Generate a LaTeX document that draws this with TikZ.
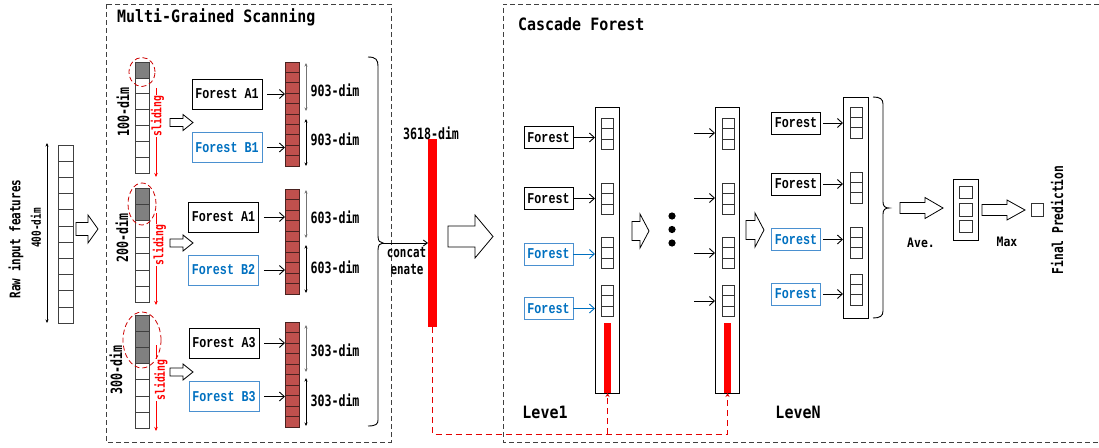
\documentclass[tikz,border=0pt]{standalone}
\usepackage{fontspec}
\usetikzlibrary{arrows.meta,calc}
\newfontfamily\heiA[FakeStretch=0.75]{DejaVu Sans Mono}
\newfontfamily\heiT[FakeStretch=0.88]{DejaVu Sans Mono}
\newfontfamily\songf[FakeStretch=0.78]{Liberation Mono}
\definecolor{fblue}{HTML}{0070C0}
\definecolor{fbluel}{HTML}{4A90D0}
\definecolor{brick}{HTML}{C0504D}
\definecolor{brickd}{HTML}{4A2220}
\newcommand{\blockarrow}[6]{%
 \draw[line width=0.8pt,fill=white,line join=miter] (#1,#3-#4) -- (#2-#6,#3-#4) -- (#2-#6,#3-#5) -- (#2,#3) -- (#2-#6,#3+#5) -- (#2-#6,#3+#4) -- (#1,#3+#4) -- cycle;}
\newcommand{\scol}[6]{%
 \foreach \i in {1,...,#5} {\pgfmathsetmacro\ya{#3+(\i-1)*#4}\pgfmathsetmacro\yb{#3+\i*#4}%
   \ifnum\i>#6 \draw[cellc,fill=white] (#1,\ya) rectangle (#2,\yb); \else \draw[cellc,fill=gray] (#1,\ya) rectangle (#2,\yb); \fi}}
\newcommand{\bcol}[5]{%
 \foreach \i in {1,...,#5} {\pgfmathsetmacro\ya{#3+(\i-1)*#4}\pgfmathsetmacro\yb{#3+\i*#4}%
   \draw[draw=brickd,fill=brick,line width=0.7pt] (#1,\ya) rectangle (#2,\yb);}}
\begin{document}
\begin{tikzpicture}[x=1pt,y=-1pt,
 cellc/.style={draw=black!75,line width=0.7pt},
 sqr/.style={draw=black!80,line width=0.7pt},
 dimarr/.style={{Stealth[length=3.5pt,width=3pt]}-{Stealth[length=3.5pt,width=3pt]},line width=0.8pt},
 farr/.style={-{Straight Barb[length=5pt,width=9pt]},line width=0.9pt},
 fbox/.style={draw,line width=0.8pt,font=\songf\bfseries\fontsize{15}{16}\selectfont,minimum width=70pt,minimum height=30pt,inner sep=0},
 fboxb/.style={fbox,draw=fbluel,text=fblue},
 cfbox/.style={fbox,minimum width=49pt,minimum height=22pt},
 cfboxb/.style={cfbox,draw=fbluel,text=fblue},
 lbl/.style={font=\heiA\bfseries\fontsize{15.5}{16}\selectfont,inner sep=0},
 lbls/.style={font=\heiA\bfseries\fontsize{13}{14}\selectfont,inner sep=0},
 ttl/.style={font=\heiT\bfseries\fontsize{17}{18}\selectfont,inner sep=0},
 ttls/.style={font=\heiT\bfseries\fontsize{13}{14}\selectfont,inner sep=0},
 sld/.style={font=\heiA\bfseries\fontsize{13}{14}\selectfont,text=red,rotate=90,fill=white,inner sep=0.5pt},
 sldarr/.style={draw=red,line width=0.9pt,-{Stealth[length=4pt,width=3.5pt]}},
 ell/.style={draw=red!80!black,dash pattern=on 5pt off 3pt,line width=0.8pt},
 frame/.style={draw=black!75,dash pattern=on 5pt off 3pt,line width=0.8pt},
 reddash/.style={draw=red!90!black,dash pattern=on 6pt off 4pt,line width=0.9pt},
 area/.style={inner sep=0,outer sep=0,anchor=north west}]
\useasboundingbox (0,0) rectangle (1099,447);

% ---------------- raw input
\scol{58}{73}{145}{16.2}{11}{0}
\node[area,minimum width=15pt,minimum height=178pt] (raw) at (58,145) {};
\draw[dimarr] (47,143) -- (47,323);
\node[lbl,font=\heiA\bfseries\fontsize{14.6}{15}\selectfont,rotate=90] at (16,239) {Raw input features};
\node[lbl,font=\heiA\bfseries\fontsize{12.5}{13}\selectfont,rotate=90] at (36,228) {400-dim};
\blockarrow{76}{98}{229}{6.5}{14}{10}

% ---------------- multi-grained frame
\draw[frame] (106,4) rectangle (391,442);
\node[ttl,anchor=west] at (117,17) {Multi-Grained Scanning};

% group 1
\scol{135}{149}{62}{15.9}{7}{1}
\draw[ell] (142,72) ellipse [x radius=13pt,y radius=14.5pt];
\node[lbl,rotate=90] at (123,112) {100-dim};
\draw[sldarr] (156,88) -- (156,177);
\node[sld] at (157.5,116) {sliding};
\blockarrow{170}{193}{122.5}{4}{8}{10}
\node[fbox] (a1) at (227,94) {Forest A1};
\node[fboxb] (b1) at (227,147.5) {Forest B1};
\bcol{285}{299}{62}{10.4}{10}
\node[area,minimum width=14pt,minimum height=104pt] (c1) at (285,62) {};
\draw[farr] ([xshift=5pt]a1.east) -- (a1.east -| c1.west);
\draw[farr] ([xshift=5pt]b1.east) -- (b1.east -| c1.west);
\draw[dimarr,draw=black!55] (306,63) -- (306,111);
\draw[dimarr] (306,119) -- (306,166);
\node[lbl] at (335,90) {903-dim};
\node[lbl] at (335,139) {903-dim};

% group 2
\scol{135}{149}{188}{16.4}{7}{2}
\draw[ell] (142,204) ellipse [x radius=14pt,y radius=21pt];
\node[lbl,rotate=90] at (122,238) {200-dim};
\draw[sldarr] (156,213) -- (156,305);
\node[sld] at (159.5,245) {sliding};
\blockarrow{170}{193}{243}{4}{8}{10}
\node[fbox] (a2) at (223.5,217) {Forest A1};
\node[fboxb] (b2) at (223.5,270) {Forest B2};
\bcol{285}{299}{189}{10.5}{10}
\node[area,minimum width=14pt,minimum height=105pt] (c2) at (285,189) {};
\draw[farr] ([xshift=5pt]a2.east) -- (a2.east -| c2.west);
\draw[farr] ([xshift=5pt]b2.east) -- (b2.east -| c2.west);
\draw[dimarr,draw=black!55] (306,190) -- (306,238);
\draw[dimarr] (306,245) -- (306,293);
\node[lbl] at (335,217) {603-dim};
\node[lbl] at (335,267) {603-dim};

% group 3
\scol{135}{149}{315}{16.2}{7}{3}
\draw[ell] (142,340) ellipse [x radius=19pt,y radius=28pt];
\node[lbl,rotate=90] at (116,370) {300-dim};
\draw[sldarr] (156,345) -- (156,431);
\node[sld] at (161,380) {sliding};
\blockarrow{170}{193}{372}{4}{8}{10}
\node[fbox] (a3) at (224,343) {Forest A3};
\node[fboxb] (b3) at (224,396.5) {Forest B3};
\bcol{285}{299}{322}{10.5}{10}
\node[area,minimum width=14pt,minimum height=105pt] (c3) at (285,322) {};
\draw[farr] ([xshift=5pt]a3.east) -- (a3.east -| c3.west);
\draw[farr] ([xshift=5pt]b3.east) -- (b3.east -| c3.west);
\draw[dimarr,draw=black!55] (306,325) -- (306,372);
\draw[dimarr] (306,378) -- (306,426);
\node[lbl] at (335,350) {303-dim};
\node[lbl] at (335,400) {303-dim};

% brace and concatenation
\draw[line width=0.9pt] (368,57) .. controls (376,57) and (378,60) .. (378,66) -- (378,236)
  .. controls (378,241) and (380,243) .. (383,243) .. controls (380,243) and (378,245) .. (378,250)
  -- (378,420) .. controls (378,424) and (376,426) .. (368,426);
\coordinate (brtip) at (382,243);
\node[area,fill=red,minimum width=9pt,minimum height=188pt] (cat) at (428,139) {};
\node[lbl] at (431,133.5) {3618-dim};
\draw[line width=0.9pt,-{Straight Barb[length=4pt,width=6pt]}] (brtip) -- (brtip -| cat.west);
\node[lbl,font=\heiA\bfseries\fontsize{14.5}{15}\selectfont] at (406.5,253) {concat};
\node[lbl,font=\heiA\bfseries\fontsize{14.5}{15}\selectfont] at (407,269.5) {enate};
\blockarrow{448}{493}{236.5}{10.5}{21.5}{18}

% ---------------- cascade forest frame
\draw[frame] (1099,4) -- (503,4) -- (503,442) -- (1099,442);
\node[ttl,anchor=west] at (518,24) {Cascade Forest};

% level 1
\node[area,draw,line width=0.8pt,minimum width=24pt,minimum height=286pt] (L1) at (595,107) {};
\foreach \g in {118,183,237,285} \foreach \k in {0,1,2}
  \draw[sqr] (601,{\g+\k*10.5}) rectangle (613,{\g+(\k+1)*10.5});
\node[area,fill=red,minimum width=7pt,minimum height=70pt] (r1) at (604,323) {};
\node[cfbox] (p1) at (548.5,137.5) {Forest};
\node[cfbox] (p2) at (548.5,198.5) {Forest};
\node[cfboxb] (p3) at (548.5,254) {Forest};
\node[cfboxb] (p4) at (548.5,308.5) {Forest};
\draw[farr] (p1.east) -- (p1.east -| L1.west);
\draw[farr] (p2.east) -- (p2.east -| L1.west);
\draw[farr,draw=fblue] (p3.east) -- (p3.east -| L1.west);
\draw[farr,draw=fblue] (p4.east) -- (p4.east -| L1.west);
\node[ttl] at (545,412) {Leve1};

\blockarrow{632}{649}{231}{9.5}{17}{9}
\fill (672,216) circle (3.6pt) (672,229.5) circle (3.6pt) (672,243) circle (3.6pt);

% level N
\node[area,draw,line width=0.8pt,minimum width=24pt,minimum height=286pt] (LN) at (715,107) {};
\foreach \g in {118,183,237,285} \foreach \k in {0,1,2}
  \draw[sqr] (722,{\g+\k*10.5}) rectangle (734,{\g+(\k+1)*10.5});
\node[area,fill=red,minimum width=7pt,minimum height=70pt] (rN) at (724,323) {};
\coordinate (n1) at (694,133);
\coordinate (n2) at (694,198);
\coordinate (n3) at (694,253);
\coordinate (n4) at (694,301);
\foreach \n in {n1,n2,n3,n4} \draw[farr] (\n) -- (\n -| LN.west);
\node[ttl] at (798,412) {LeveN};

\blockarrow{746}{764}{230}{9.5}{17}{9}

% output layer
\node[area,draw,line width=0.8pt,minimum width=25pt,minimum height=221pt] (OC) at (843,97) {};
\foreach \g in {107,172,227,274} \foreach \k in {0,1,2}
  \draw[sqr] (850,{\g+\k*10.4}) rectangle (862,{\g+(\k+1)*10.4});
\node[cfbox] (q1) at (796,123) {Forest};
\node[cfbox] (q2) at (796,184) {Forest};
\node[cfboxb] (q3) at (796,239.5) {Forest};
\node[cfboxb] (q4) at (796,294) {Forest};
\draw[farr] ([xshift=2pt]q1.east) -- (q1.east -| OC.west);
\draw[farr] ([xshift=2pt]q2.east) -- (q2.east -| OC.west);
\draw[farr] ([xshift=2pt]q3.east) -- (q3.east -| OC.west);
\draw[farr] ([xshift=2pt]q4.east) -- (q4.east -| OC.west);
\draw[line width=0.9pt] (873,97) .. controls (880,97) and (883,99) .. (883,104) -- (883,202)
  .. controls (883,206) and (885,208) .. (889,208) .. controls (885,208) and (883,210) .. (883,214)
  -- (883,311) .. controls (883,316) and (880,318) .. (873,318);

\blockarrow{900}{943}{208}{5.5}{10.5}{18}
\node[ttls] at (921,243) {Ave.};
\node[area,draw,line width=0.8pt,minimum width=25pt,minimum height=61pt] (AV) at (953,179) {};
\draw[sqr] (959,186) rectangle (972,198);
\draw[sqr] (959,203) rectangle (972,216);
\draw[sqr] (959,220) rectangle (972,232);
\blockarrow{982}{1025}{210}{5.5}{10}{18}
\node[ttls] at (1007,242) {Max};
\node[area,draw=black!80,line width=0.7pt,minimum width=12pt,minimum height=13pt] (FP) at (1031,203) {};
\node[lbl,font=\heiA\bfseries\fontsize{15}{16}\selectfont,rotate=90] at (1057,220) {Final Prediction};

% ---------------- red dashed feedback
\draw[reddash,-{Stealth[length=4pt,width=4pt]}] (cat.south) |- ($(rN.south)+(0,41)$) -- (rN.south);
\draw[reddash,-{Stealth[length=4pt,width=4pt]}] ($(r1.south)+(0,41)$) -- (r1.south);
\end{tikzpicture}
\end{document}
